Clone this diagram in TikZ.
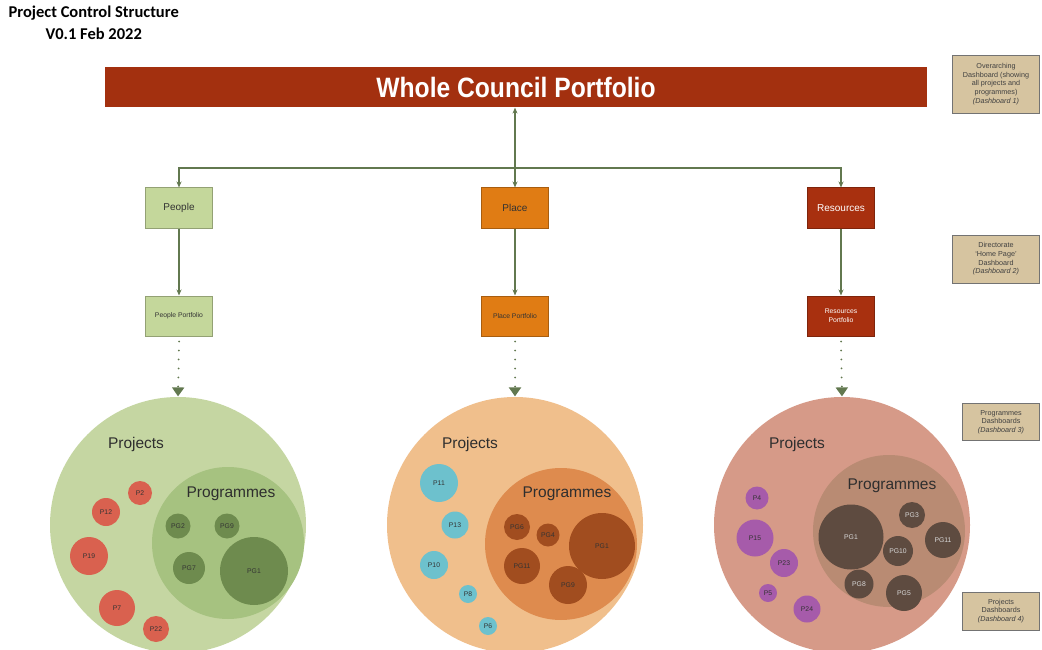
\documentclass[tikz,border=0pt]{standalone}
\usepackage{fontspec}
\setmainfont{Liberation Sans}
\newfontfamily\calfont{Carlito}
\newfontfamily\condfont[FakeStretch=0.88]{Liberation Sans}
\usetikzlibrary{arrows.meta, positioning}
\definecolor{cbanner}{HTML}{A3300F}
\definecolor{cpeople}{HTML}{C4D79B}
\definecolor{cplace}{HTML}{E07C14}
\definecolor{cres}{HTML}{A8300F}
\definecolor{clink}{HTML}{62784F}
\definecolor{cnote}{HTML}{D6C4A0}
\definecolor{ctext}{HTML}{333333}
\definecolor{gouter}{HTML}{C5D6A2}
\definecolor{ginner}{HTML}{A6C280}
\definecolor{gpg}{HTML}{6E8B4E}
\definecolor{gp}{HTML}{D9614F}
\definecolor{oouter}{HTML}{F0BF8C}
\definecolor{oinner}{HTML}{DE8B4E}
\definecolor{opg}{HTML}{A14D1F}
\definecolor{op}{HTML}{6DC1CD}
\definecolor{pouter}{HTML}{D69A88}
\definecolor{pinner}{HTML}{B98B73}
\definecolor{ppg}{HTML}{5E4B40}
\definecolor{pp}{HTML}{A65BAA}
\tikzset{
  every picture/.style={x=1pt, y=-1pt, line width=1.2pt},
  dirbox/.style={draw=#1!75!black, fill=#1, minimum width=67pt, minimum height=40pt, inner sep=2pt, align=center, line width=1pt, text=ctext, font=\fontsize{10}{11}\selectfont},
  portbox/.style={dirbox=#1, font=\fontsize{6.8}{9}\selectfont},
  link/.style={draw=clink, line width=1.1pt},
  dotlink/.style={draw=clink, line width=2pt, line cap=round, dash pattern=on 0pt off 9pt, -{Triangle[length=9pt, width=12pt]}},
  note/.style={draw=black!55, fill=cnote, line width=0.8pt, align=center, inner sep=1pt, text=black!75, font=\fontsize{7.2}{8.6}\selectfont},
  outer/.style={circle, fill=#1, inner sep=0pt, minimum size=256pt},
  inner/.style={circle, fill=#1, inner sep=0pt, minimum size=152pt},
  bub/.style={circle, fill=#1, inner sep=0pt, text=ctext, font=\fontsize{6.8}{8}\selectfont},
  circlbl/.style={text=ctext!90!black, font=\fontsize{15.5}{17}\selectfont},
}

\begin{document}
\begin{tikzpicture}
  \useasboundingbox (0,0) rectangle (1042,650);

  \node[font=\calfont\bfseries\fontsize{16.5}{22}\selectfont, align=center, anchor=north west, inner sep=0pt] (title) at (8,5) {Project Control Structure\\V0.1 Feb 2022};

  \node[fill=cbanner, minimum width=822pt, minimum height=40pt, text=white, font=\condfont\bfseries\fontsize{28}{30}\selectfont] (wcp) at (516,87) {Whole Council Portfolio};

  % directorates
  \node[dirbox=cpeople] (people) at (179,208) {People};
  \node[dirbox=cplace] (place) at (515,208) {Place};
  \node[dirbox=cres, text=white] (res) at (841,208) {Resources};

  \node[portbox=cpeople] (ppeople) at (179,316) {People Portfolio};
  \node[portbox=cplace] (pplace) at (515,316) {Place Portfolio};
  \node[portbox=cres, text=white] (pres) at (841,316) {Resources\\Portfolio};

  \coordinate (split) at (515,168);
  \draw[link, {Stealth[length=6pt,width=5pt]}-{Stealth[length=6pt,width=5pt]}] (wcp.south -| place) -- (place.north);
  \draw[link, -{Stealth[length=6pt,width=5pt]}] (split) -| (people.north);
  \draw[link, -{Stealth[length=6pt,width=5pt]}] (split) -| (res.north);
  \draw[link, -{Stealth[length=6pt,width=5pt]}] (people) -- (ppeople);
  \draw[link, -{Stealth[length=6pt,width=5pt]}] (place) -- (pplace);
  \draw[link, -{Stealth[length=6pt,width=5pt]}] (res) -- (pres);

  % people circle
  \node[outer=gouter] (gout) at (178,525) {};
  \node[inner=ginner] (gin) at (228,543) {};
  \node[circlbl] (gproj) at (136,444) {Projects};
  \node[circlbl] (gprog) at (231,494) {Programmes};
  \node[bub=gp, minimum size=24pt] (gp2) at (140,493) {P2};
  \node[bub=gp, minimum size=28pt] (gp12) at (106,512) {P12};
  \node[bub=gp, minimum size=38pt] (gp19) at (89,556) {P19};
  \node[bub=gp, minimum size=36pt] (gp7) at (117,608) {P7};
  \node[bub=gp, minimum size=26pt] (gp22) at (156,629) {P22};
  \node[bub=gpg, minimum size=25pt] (gpg2) at (178,526) {PG2};
  \node[bub=gpg, minimum size=25pt] (gpg9) at (227,526) {PG9};
  \node[bub=gpg, minimum size=32pt] (gpg7) at (189,568) {PG7};
  \node[bub=gpg, minimum size=68pt] (gpg1) at (254,571) {PG1};

  % place circle
  \node[outer=oouter] (oout) at (515,525) {};
  \node[inner=oinner] (oin) at (561,544) {};
  \node[circlbl] (oproj) at (470,444) {Projects};
  \node[circlbl] (oprog) at (567,494) {Programmes};
  \node[bub=op, minimum size=38pt] (op11) at (439,483) {P11};
  \node[bub=op, minimum size=27pt] (op13) at (455,525) {P13};
  \node[bub=op, minimum size=28pt] (op10) at (434,565) {P10};
  \node[bub=op, minimum size=18pt] (op8) at (468,594) {P8};
  \node[bub=op, minimum size=18pt] (op6) at (488,626) {P6};
  \node[bub=opg, minimum size=26pt] (opg6) at (517,527) {PG6};
  \node[bub=opg, minimum size=23pt] (opg4) at (548,535) {PG4};
  \node[bub=opg, minimum size=66pt] (opg1) at (602,546) {PG1};
  \node[bub=opg, minimum size=36pt] (opg11) at (522,566) {PG11};
  \node[bub=opg, minimum size=38pt] (opg9) at (568,585) {PG9};

  % resources circle
  \node[outer=pouter] (pout) at (842,525) {};
  \node[inner=pinner] (pin) at (889,531) {};
  \node[circlbl] (pproj) at (797,444) {Projects};
  \node[circlbl] (pprog) at (892,486) {Programmes};
  \node[bub=pp, minimum size=23pt] (pp4) at (757,498) {P4};
  \node[bub=pp, minimum size=37pt] (pp15) at (755,538) {P15};
  \node[bub=pp, minimum size=28pt] (pp23) at (784,563) {P23};
  \node[bub=pp, minimum size=18pt] (pp5) at (768,593) {P5};
  \node[bub=pp, minimum size=27pt] (pp24) at (807,609) {P24};
  \node[bub=ppg, minimum size=65pt, text=white!85!black] (ppg1) at (851,537) {PG1};
  \node[bub=ppg, minimum size=26pt, text=white!85!black] (ppg3) at (912,515) {PG3};
  \node[bub=ppg, minimum size=36pt, text=white!85!black] (ppg11) at (943,540) {PG11};
  \node[bub=ppg, minimum size=30pt, text=white!85!black] (ppg10) at (898,551) {PG10};
  \node[bub=ppg, minimum size=29pt, text=white!85!black] (ppg8) at (859,584) {PG8};
  \node[bub=ppg, minimum size=36pt, text=white!85!black] (ppg5) at (904,593) {PG5};

  % portfolio to circles
  \draw[dotlink] ([yshift=-5pt]ppeople.south) -- (gout.north);
  \draw[dotlink] ([yshift=-5pt]pplace.south) -- (oout.north);
  \draw[dotlink] ([yshift=-5pt]pres.south) -- (pout.north);

  % dashboard notes
  \node[note, minimum width=87pt, minimum height=58pt] (d1) at (996,84) {Overarching\\Dashboard (showing\\all projects and\\programmes)\\\textit{(Dashboard 1)}};
  \node[note, minimum width=87pt, minimum height=48pt] (d2) at (996,259) {Directorate\\`Home Page'\\Dashboard\\\textit{(Dashboard 2)}};
  \node[note, minimum width=77pt, minimum height=37pt] (d3) at (1001,422) {Programmes\\Dashboards\\\textit{(Dashboard 3)}};
  \node[note, minimum width=77pt, minimum height=38pt] (d4) at (1001,611) {Projects\\Dashboards\\\textit{(Dashboard 4)}};
\end{tikzpicture}
\end{document}
